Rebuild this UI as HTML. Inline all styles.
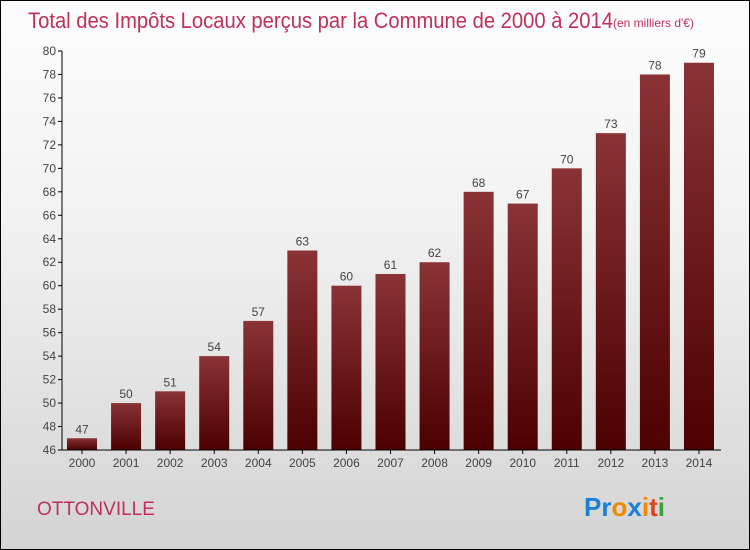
<!DOCTYPE html>
<html><head><meta charset="utf-8"><style>
body{margin:0}
#c{position:relative;width:748px;height:548px;border:1px solid #000;background:linear-gradient(#fdfdfd,#f2f2f2 40%,#d4d4d4);font-family:"Liberation Sans",sans-serif;overflow:hidden}
</style></head><body>
<div id="c">
<svg id="s" width="748" height="548">
<defs><linearGradient id="g" x1="0" y1="0" x2="0" y2="1"><stop offset="0" stop-color="#8a3336"/><stop offset="1" stop-color="#4c0000"/></linearGradient></defs>
<text x="27" y="27" font-size="22" fill="#c0305a" textLength="585" lengthAdjust="spacingAndGlyphs">Total des Impôts Locaux perçus par la Commune de 2000 à 2014</text>
<text x="612" y="26" font-size="12" fill="#c0305a">(en milliers d'€)</text>
<text x="36" y="514" font-size="19" fill="#c0305a">OTTONVILLE</text>
<text x="583" y="515" font-size="26" font-weight="bold"><tspan fill="#1a7fd6">Pr</tspan><tspan fill="#f08a00">o</tspan><tspan fill="#1a7fd6">x</tspan><tspan fill="#f08a00">i</tspan><tspan fill="#e0401a">t</tspan><tspan fill="#3aa040">i</tspan></text>
<g id="plot"></g>
</svg></div>
<script>
const years=["2000","2001","2002","2003","2004","2005","2006","2007","2008","2009","2010","2011","2012","2013","2014"];
const values=[47,50,51,54,57,63,60,61,62,68,67,70,73,78,79];
const yTicks=[46,48,50,52,54,56,58,60,62,64,66,68,70,72,74,76,78,80];
const ns="http://www.w3.org/2000/svg";
const g=document.getElementById('plot');
const y=v=>449-(v-46)*(399/34);
const x=i=>81+i*44.07;
function mk(t,a){const e=document.createElementNS(ns,t);for(const k in a)e.setAttribute(k,a[k]);g.appendChild(e);return e;}
yTicks.forEach(v=>{
 const l=mk('line',{x1:57,x2:61,y1:y(v),y2:y(v),stroke:'#000'});
 
 
 const t=mk('text',{x:55,y:y(v)+4,'font-size':12,fill:'#444','text-anchor':'end'});t.textContent=v;
 
 
});
values.forEach((v,i)=>{
 const r=mk('rect',{x:x(i)-15,y:y(v),width:30,height:449-y(v),fill:'url(#g)'});
 
 
 const t=mk('text',{x:x(i),y:y(v)-5,'font-size':12,fill:'#444','text-anchor':'middle'});t.textContent=v;
 
 
 const tk=mk('line',{x1:x(i),x2:x(i),y1:449,y2:453,stroke:'#000'});
 
 
 const xl=mk('text',{x:x(i),y:466,'font-size':12,fill:'#444','text-anchor':'middle'});xl.textContent=years[i];
 
 
});
const ya=mk('line',{x1:61,x2:61,y1:y(80),y2:449,stroke:'#000'});


const xa=mk('line',{x1:61,x2:720,y1:449,y2:449,stroke:'#000'});


</script>
</body></html>
